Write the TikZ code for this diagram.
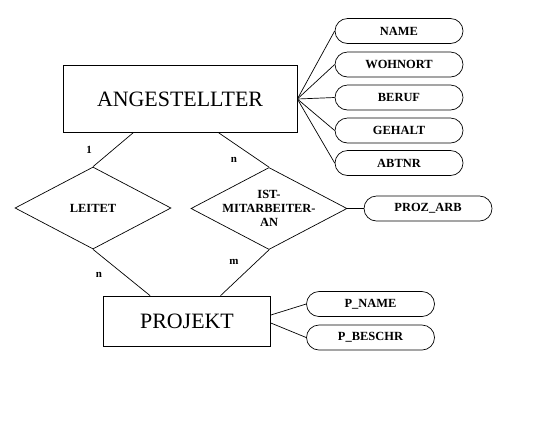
\documentclass[tikz,border=0pt]{standalone}
\usepackage{fontspec}
\setmainfont{Liberation Serif}
\usetikzlibrary{shapes,calc}

\begin{document}
\begin{tikzpicture}[x=1bp,y=-1bp,line width=0.7pt]
\tikzstyle{entity}=[draw,rectangle,inner sep=0pt,font=\fontsize{22}{26}\selectfont]
\tikzstyle{relation}=[draw,diamond,inner sep=0pt,minimum width=156bp,minimum height=82bp]
\tikzstyle{rtext}=[align=center,font=\fontsize{12.5}{14}\selectfont\bfseries]
\tikzstyle{attribute}=[draw,rounded rectangle,inner sep=0pt,minimum width=128bp,minimum height=25bp,font=\fontsize{12.5}{14}\selectfont\bfseries]
\tikzstyle{card}=[font=\fontsize{11}{12}\selectfont\bfseries]
\useasboundingbox (0,0) rectangle (544,423);
\node[entity,minimum width=234bp,minimum height=67bp] (A) at (180,99) {ANGESTELLTER};
\node[entity,minimum width=167bp,minimum height=50bp] (P) at (187,321) {PROJEKT};
\node[relation,label={[rtext]center:LEITET}] (L) at (93,208) {};
\node[relation,label={[rtext]center:IST-\\MITARBEITER-\\AN}] (M) at (269,208.5) {};
\node[attribute] (N) at (399,31) {NAME};
\node[attribute] (W) at (399,64.5) {WOHNORT};
\node[attribute] (B) at (399,97.5) {BERUF};
\node[attribute] (G) at (399,130.5) {GEHALT};
\node[attribute] (T) at (399,163) {ABTNR};
\node[attribute] (Z) at (428,208.5) {PROZ\_ARB};
\node[attribute] (PN) at (370.5,304) {P\_NAME};
\node[attribute] (PB) at (370.5,337.5) {P\_BESCHR};
% cardinalities
\node[card] (c1) at (89,150) {1};
\node[card] (c2) at (234,160) {n};
\node[card] (c3) at (99,275) {n};
\node[card] (c4) at (234,262) {m};
\coordinate (a1) at ($(A.south west)!0.3!(A.south east)$);
\coordinate (a2) at ($(A.south west)!0.665!(A.south east)$);
\coordinate (p1) at ($(P.north west)!0.28!(P.north east)$);
\coordinate (p2) at ($(P.north west)!0.7!(P.north east)$);
\path (A.east) edge (N.west) edge (W.west) edge (B.west) edge (G.west) edge (T.west)
      (a1) edge (L.north)
      (a2) edge (M.north)
      (L.south) edge (p1)
      (M.south) edge (p2)
      (M.east) edge (Z.west)
      ([yshift=6bp]P.east) edge (PN.west)
      ([yshift=-2bp]P.east) edge (PB.west);
\end{tikzpicture}
\end{document}
